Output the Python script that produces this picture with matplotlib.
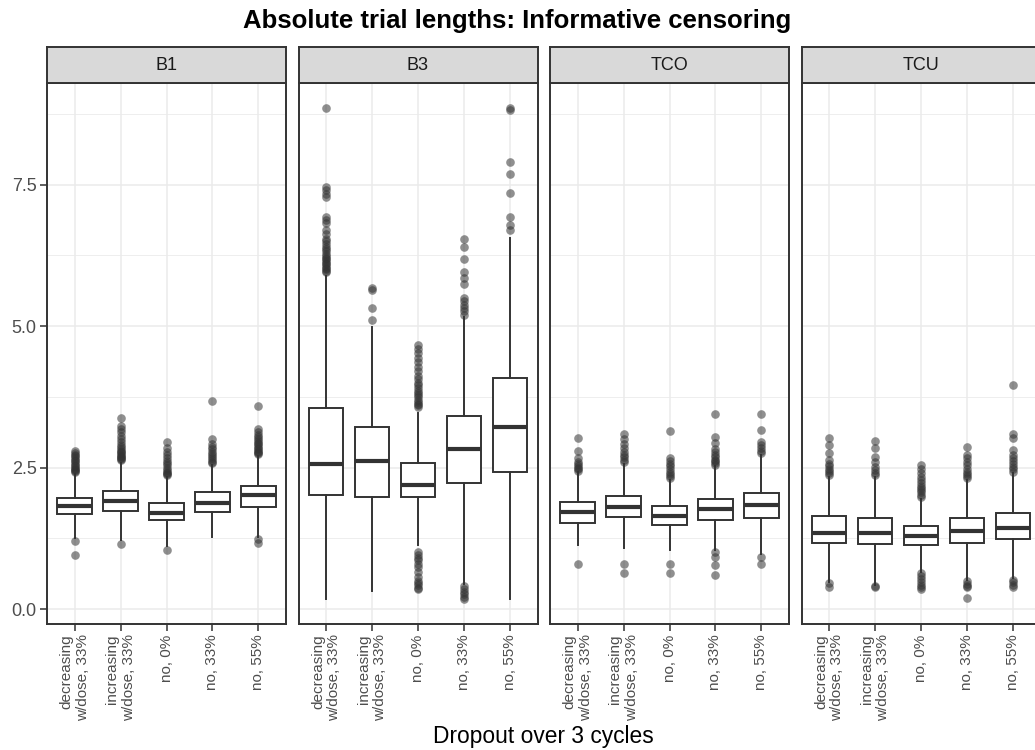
import matplotlib
matplotlib.use('Agg')
import numpy as np
from matplotlib import pyplot as plt

plt.rcParams['font.family'] = ['Liberation Sans', 'DejaVu Sans']

title = 'Absolute trial lengths: Informative censoring'
x_title = 'Dropout over 3 cycles'
panels = ['B1', 'B3', 'TCO', 'TCU']
categories = ['decreasing\nw/dose, 33%', 'increasing\nw/dose, 33%', 'no, 0%', 'no, 33%', 'no, 55%']

# box statistics, one list per panel
b1_q1 = [1.68, 1.74, 1.57, 1.72, 1.81]
b1_med = [1.82, 1.91, 1.70, 1.88, 2.01]
b1_q3 = [1.97, 2.09, 1.88, 2.06, 2.18]
b1_lo = [1.25, 1.22, 1.11, 1.28, 1.28]
b1_hi = [2.38, 2.58, 2.33, 2.55, 2.70]
b1_out = [
    [2.42, 2.44, 2.46, 2.48, 2.50, 2.52, 2.55, 2.58, 2.61, 2.64, 2.67, 2.70, 2.73, 2.76, 2.80, 1.21, 0.95],
    [2.63, 2.65, 2.67, 2.69, 2.71, 2.73, 2.75, 2.77, 2.80, 2.83, 2.86, 2.90, 2.95, 3.00, 3.06, 3.12, 3.18,
     3.24, 3.37, 1.15],
    [2.36, 2.38, 2.40, 2.43, 2.46, 2.50, 2.54, 2.58, 2.62, 2.67, 2.72, 2.78, 2.85, 2.95, 1.04],
    [2.58, 2.60, 2.63, 2.66, 2.70, 2.74, 2.78, 2.82, 2.86, 2.91, 3.00, 3.67],
    [2.74, 2.76, 2.78, 2.80, 2.82, 2.85, 2.88, 2.91, 2.94, 2.97, 3.00, 3.04, 3.08, 3.13, 3.18, 3.58, 1.23, 1.16],
]

b3_q1 = [2.01, 1.98, 1.98, 2.22, 2.42]
b3_med = [2.57, 2.61, 2.19, 2.83, 3.22]
b3_q3 = [3.56, 3.22, 2.58, 3.41, 4.09]
b3_lo = [0.17, 0.32, 1.13, 0.45, 0.17]
b3_hi = [5.88, 4.99, 3.47, 5.16, 6.55]
b3_out = [
    [5.95, 5.97, 6.00, 6.03, 6.06, 6.09, 6.12, 6.15, 6.18, 6.21, 6.24, 6.28, 6.32, 6.36, 6.40, 6.45, 6.50,
     6.54, 6.62, 6.70, 6.82, 6.88, 6.93, 7.28, 7.34, 7.40, 7.46, 8.86],
    [5.11, 5.32, 5.64, 5.67],
    [3.57, 3.60, 3.63, 3.66, 3.70, 3.74, 3.78, 3.82, 3.86, 3.90, 3.95, 4.00, 4.06, 4.12, 4.20, 4.28, 4.36,
     4.44, 4.52, 4.60, 4.66, 1.01, 0.96, 0.91, 0.86, 0.80, 0.74, 0.66, 0.56, 0.50, 0.46, 0.42, 0.38, 0.35],
    [5.20, 5.26, 5.32, 5.38, 5.44, 5.50, 5.75, 5.85, 5.95, 6.19, 6.39, 6.54, 0.40, 0.35, 0.30, 0.26, 0.22, 0.18],
    [6.70, 6.78, 6.92, 7.35, 7.68, 7.89, 8.82, 8.86],
]

tco_q1 = [1.52, 1.62, 1.49, 1.57, 1.61]
tco_med = [1.71, 1.81, 1.64, 1.77, 1.84]
tco_q3 = [1.89, 2.00, 1.82, 1.95, 2.05]
tco_lo = [1.13, 1.07, 1.04, 1.05, 0.98]
tco_hi = [2.42, 2.57, 2.28, 2.52, 2.72]
tco_out = [
    [2.44, 2.47, 2.50, 2.53, 2.56, 2.60, 2.66, 2.79, 3.03, 0.79],
    [2.60, 2.64, 2.68, 2.72, 2.78, 2.85, 2.92, 3.00, 3.10, 0.79, 0.63],
    [2.31, 2.35, 2.39, 2.43, 2.47, 2.52, 2.57, 2.62, 2.66, 3.15, 0.79, 0.63],
    [2.55, 2.58, 2.61, 2.64, 2.68, 2.72, 2.77, 2.83, 2.93, 3.04, 3.45, 1.01, 0.92, 0.78, 0.60],
    [2.75, 2.80, 2.85, 2.90, 2.95, 3.17, 3.45, 0.92, 0.79],
]

tcu_q1 = [1.17, 1.15, 1.13, 1.17, 1.24]
tcu_med = [1.35, 1.35, 1.29, 1.38, 1.44]
tcu_q3 = [1.65, 1.60, 1.47, 1.60, 1.69]
tcu_lo = [0.48, 0.42, 0.66, 0.51, 0.54]
tcu_hi = [2.34, 2.34, 1.95, 2.28, 2.40]
tcu_out = [
    [2.37, 2.40, 2.44, 2.48, 2.52, 2.57, 2.63, 2.75, 2.90, 3.03, 0.46, 0.39],
    [2.37, 2.41, 2.46, 2.51, 2.60, 2.69, 2.84, 2.97, 0.41, 0.39],
    [1.98, 2.02, 2.06, 2.10, 2.14, 2.18, 2.23, 2.28, 2.34, 2.40, 2.47, 2.54, 0.63, 0.58, 0.53, 0.48, 0.43,
     0.39, 0.36],
    [2.31, 2.35, 2.39, 2.43, 2.48, 2.54, 2.60, 2.66, 2.72, 2.87, 0.49, 0.45, 0.41, 0.39, 0.19],
    [2.43, 2.47, 2.51, 2.56, 2.61, 2.66, 2.72, 2.81, 3.03, 3.10, 3.96, 0.52, 0.47, 0.43, 0.39],
]

panel_data = {
    'B1': (b1_q1, b1_med, b1_q3, b1_lo, b1_hi, b1_out),
    'B3': (b3_q1, b3_med, b3_q3, b3_lo, b3_hi, b3_out),
    'TCO': (tco_q1, tco_med, tco_q3, tco_lo, tco_hi, tco_out),
    'TCU': (tcu_q1, tcu_med, tcu_q3, tcu_lo, tcu_hi, tcu_out),
}

DARK = '#333333'
GRID = '#EBEBEB'
W, H = 1035, 750

# shared y range, ggplot style 5% expansion
all_vals = []
for p in panels:
    q1, med, q3, lo, hi, out = panel_data[p]
    all_vals += lo + hi + [v for o in out for v in o]
ymin, ymax = min(all_vals), max(all_vals)
pad = 0.05 * (ymax - ymin)

fig = plt.figure(figsize=(W / 100, H / 100), dpi=100)

left0, pw, step = 47, 239, 251.5
top, bottom, strip_h = 83, 624, 36

for i, p in enumerate(panels):
    q1, med, q3, lo, hi, out = panel_data[p]
    x0 = left0 + i * step
    ax = fig.add_axes([x0 / W, (H - bottom) / H, pw / W, (bottom - top) / H])
    stats = [dict(q1=q1[k], med=med[k], q3=q3[k], whislo=lo[k], whishi=hi[k], fliers=out[k])
             for k in range(len(categories))]
    pos = np.arange(1, len(categories) + 1)
    ax.bxp(stats, positions=pos, widths=0.75, patch_artist=True, showcaps=False,
           boxprops=dict(facecolor='white', edgecolor=DARK, linewidth=1.4),
           medianprops=dict(color=DARK, linewidth=3.0, solid_capstyle='butt'),
           whiskerprops=dict(color=DARK, linewidth=1.4),
           flierprops=dict(marker='o', markerfacecolor=DARK, markeredgecolor='none',
                           alpha=0.55, markersize=6.2))
    ax.set_xlim(0.4, len(categories) + 0.6)
    ax.set_ylim(ymin - pad, ymax + pad)
    ax.set_yticks([0, 2.5, 5.0, 7.5])
    ax.set_yticks([1.25, 3.75, 6.25, 8.75], minor=True)
    ax.set_xticks(pos)
    ax.set_xticklabels(categories, rotation=90, ha='center', va='top', multialignment='right',
                       fontsize=11, color='#4D4D4D')
    ax.grid(True, which='major', color=GRID, linewidth=1.1)
    ax.grid(True, which='minor', axis='y', color=GRID, linewidth=0.6)
    ax.set_axisbelow(True)
    ax.tick_params(axis='both', which='major', length=5, width=1.1, color=DARK, pad=2.5)
    ax.tick_params(axis='y', which='minor', length=0)
    if i == 0:
        ax.set_yticklabels(['0.0', '2.5', '5.0', '7.5'], fontsize=13, color='#4D4D4D')
    else:
        ax.tick_params(axis='y', which='major', length=0, labelleft=False)
    for s in ax.spines.values():
        s.set_color(DARK)
        s.set_linewidth(1.4)

    sax = fig.add_axes([x0 / W, (H - top) / H, pw / W, strip_h / H])
    sax.set_facecolor('#D9D9D9')
    sax.set_xticks([])
    sax.set_yticks([])
    for s in sax.spines.values():
        s.set_color(DARK)
        s.set_linewidth(1.4)
    sax.text(0.5, 0.5, p, ha='center', va='center', fontsize=13, color='#1A1A1A',
             transform=sax.transAxes)

cx = (left0 + 3 * step + pw + left0) / 2 / W
fig.text(0.5, 1 - 28 / H, title, ha='center', va='baseline', fontsize=18.5, fontweight='bold')
fig.text(cx, 1 - 743 / H, x_title, ha='center', va='baseline', fontsize=16.4)

fig.savefig('out.png', dpi=100)
